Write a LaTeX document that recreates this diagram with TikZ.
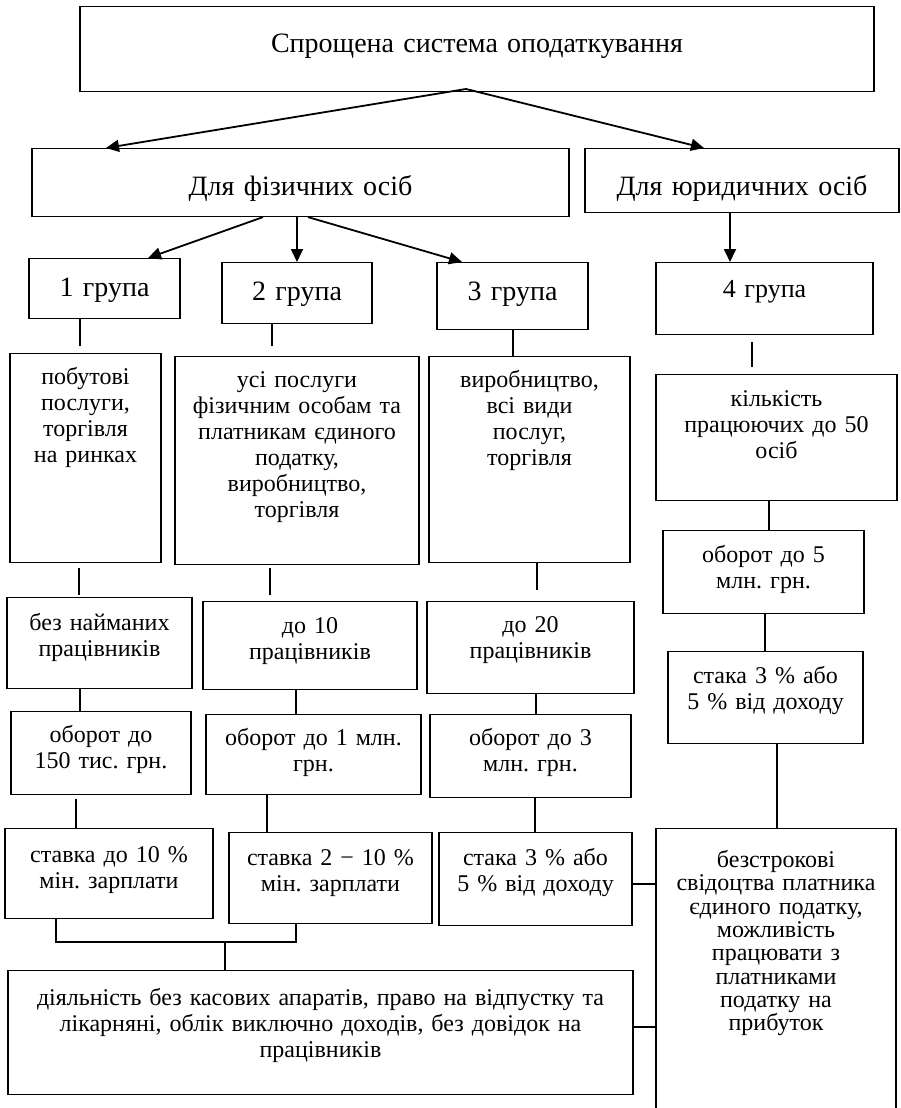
\documentclass[tikz,border=0pt]{standalone}
\usepackage{fontspec}
\setmainfont{Liberation Serif}
\usetikzlibrary{arrows.meta}
\frenchspacing

\begin{document}
\begin{tikzpicture}[x=1pt, y=-1pt,
  box/.style={rectangle, draw=black, line width=1.1pt, inner sep=0pt, anchor=north, align=center, font=\fontsize{24}{26}\selectfont},
  big/.style={font=\fontsize{28}{30}\selectfont},
  arr/.style={-{Triangle[length=13pt, width=12pt]}, line width=1.8pt},
  link/.style={line width=1.2pt}]
\useasboundingbox (0,0) rectangle (900,1108);
\clip (0,0) rectangle (900,1108);

% top levels
\node [box, big, text width=794pt, text height=46pt, text depth=39pt] (S) at (477,6) {Спрощена система оподаткування};
\node [box, big, text width=537pt, text height=47pt, text depth=21pt] (FO) at (300.5,148) {Для фізичних осіб};
\node [box, big, text width=314pt, text height=47pt, text depth=17pt] (YO) at (742,148) {Для юридичних осіб};

% groups
\node [box, big, text width=151pt, text height=38pt, text depth=22pt] (G1) at (104.5,258) {1 група};
\node [box, big, text width=150pt, text height=38pt, text depth=23pt] (G2) at (297,262) {2 група};
\node [box, big, text width=151pt, text height=38pt, text depth=29pt] (G3) at (512.5,262) {3 група};
\node [box, font=\fontsize{26}{28}\selectfont, text width=217pt, text height=35pt, text depth=37pt] (G4) at (764.5,262) {4 група};

% kinds of activity
\node [box, text width=151pt, text height=31pt, text depth=178pt] (V1) at (85.5,353) {побутові\\послуги,\\торгівля\\на ринках};
\node [box, text width=244pt, text height=31pt, text depth=177pt] (V2) at (297,356) {усі послуги\\фізичним особам та\\платникам єдиного\\податку,\\виробництво,\\торгівля};
\node [box, text width=201pt, text height=31pt, text depth=175pt] (V3) at (529.5,356) {виробництво,\\всі види\\послуг,\\торгівля};
\node [box, text width=241pt, text height=32pt, text depth=94pt] (P4) at (776.5,374) {кількість\\працюючих до 50\\осіб};

% workers
\node [box, text width=185pt, text height=33pt, text depth=58pt] (P1) at (99.5,597) {без найманих\\працівників};
\node [box, text width=214pt, text height=32pt, text depth=56pt] (P2) at (310,601) {до 10\\працівників};
\node [box, text width=207pt, text height=31pt, text depth=61pt] (P3) at (530.5,601) {до 20\\працівників};
\node [box, text width=201pt, text height=32pt, text depth=51pt] (O4) at (763.5,530) {оборот до 5\\млн. грн.};

% turnover
\node [box, text width=180pt, text height=31pt, text depth=52pt] (O1) at (101,711) {оборот до\\150 тис. грн.};
\node [box, text width=215pt, text height=31pt, text depth=49pt] (O2) at (313.5,714) {оборот до 1 млн.\\грн.};
\node [box, text width=201pt, text height=31pt, text depth=52pt] (O3) at (530.5,714) {оборот до 3\\млн. грн.};
\node [box, text width=195pt, text height=32pt, text depth=60pt] (R4) at (765.5,651) {стака 3 \% або\\5 \% від доходу};

% rates
\node [box, text width=208pt, text height=34pt, text depth=56pt] (R1) at (109,828) {ставка до 10 \%\\мін. зарплати};
\node [box, text width=203pt, text height=33pt, text depth=58pt] (R2) at (330.5,832) {ставка 2 − 10 \%\\мін. зарплати};
\node [box, text width=193pt, text height=33pt, text depth=60pt] (R3) at (535.5,832) {стака 3 \% або\\5 \% від доходу};

% common terms
\node [box, text width=625pt, text height=35pt, text depth=89pt] (Z) at (320.5,970) {діяльність без касових апаратів, право на відпустку та\\лікарняні, облік виключно доходів, без довідок на\\працівників};
\node [box, font=\fontsize{24}{23.3}\selectfont, text width=240pt, text height=39pt, text depth=253pt] (L4) at (776,828) {безстрокові\\свідоцтва платника\\єдиного податку,\\можливість\\працювати з\\платниками\\податку на\\прибуток};

% arrows
\coordinate (Sout) at (466,89);
\draw [arr] (Sout) -- (FO.north -| 106,0);
\draw [arr] (Sout) -- (YO.north -| 704,0);
\draw [arr] (FO.south -| 263,0) -- (G1.north -| 148,0);
\draw [arr] (FO.south -| G2.north) -- (G2.north);
\draw [arr] (FO.south -| 308,0) -- (G3.north -| 462,0);
\draw [arr] (YO.south -| 730,0) -- (G4.north -| 730,0);

% links down the columns
\draw [link, shorten >=7pt] (G1.south -| 80,0) -- (V1.north -| 80,0);
\draw [link, shorten >=10pt] (G2.south -| 272,0) -- (V2.north -| 272,0);
\draw [link] (G3.south -| 513,0) -- (V3.north -| 513,0);
\draw [link, shorten <=7pt, shorten >=7pt] (G4.south -| 752,0) -- (P4.north -| 752,0);

\draw [link, shorten <=5pt, shorten >=2pt] (V1.south -| 79,0) -- (P1.north -| 79,0);
\draw [link, shorten <=3pt, shorten >=6pt] (V2.south -| 270,0) -- (P2.north -| 270,0);
\draw [link, shorten >=11pt] (V3.south -| 537,0) -- (P3.north -| 537,0);
\draw [link] (P4.south -| 769,0) -- (O4.north -| 769,0);

\draw [link] (P1.south -| 80,0) -- (O1.north -| 80,0);
\draw [link] (P2.south -| 296,0) -- (O2.north -| 296,0);
\draw [link] (P3.south -| 536,0) -- (O3.north -| 536,0);
\draw [link] (O4.south -| 765,0) -- (R4.north -| 765,0);

\draw [link, shorten <=4pt] (O1.south -| 76,0) -- (R1.north -| 76,0);
\draw [link] (O2.south -| 267,0) -- (R2.north -| 267,0);
\draw [link] (O3.south -| 535,0) -- (R3.north -| 535,0);
\draw [link] (R4.south -| 777,0) -- (L4.north -| 777,0);

% bracket and side links
\coordinate (J) at (225,942);
\draw [link] (R1.south -| 56,0) |- (J) -| (R2.south -| 296,0);
\draw [link] (J) -- (Z.north -| J);
\draw [link] (R3.east |- 0,884) -- (L4.west |- 0,884);
\draw [link] (Z.east |- 0,1027) -- (L4.west |- 0,1027);
\end{tikzpicture}
\end{document}
